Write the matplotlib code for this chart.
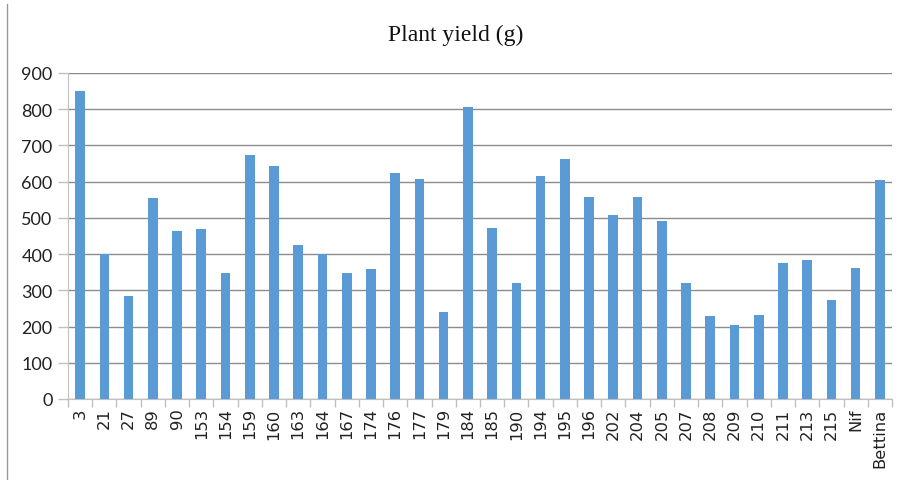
"""Plant yield bar chart."""

import matplotlib

matplotlib.use("Agg")
import matplotlib.pyplot as plt
import numpy as np

categories = [
    "3", "21", "27", "89", "90", "153", "154", "159", "160", "163", "164",
    "167", "174", "176", "177", "179", "184", "185", "190", "194", "195",
    "196", "202", "204", "205", "207", "208", "209", "210", "211", "213",
    "215", "Nif", "Bettina",
]
yield_g = [
    850, 400, 284, 556, 465, 468, 348, 673, 643, 425, 400,
    348, 359, 625, 606, 241, 805, 473, 321, 615, 663,
    559, 508, 559, 491, 321, 228, 204, 231, 375, 383,
    273, 362, 604,
]
y_ticks = list(range(0, 1000, 100))

BAR = "#5b9bd5"
GRID = "#8c8c8c"
AXIS = "#c0c0c0"

fig = plt.figure(figsize=(9.02, 4.81), dpi=100)
ax = fig.add_axes([68 / 902, 1 - 400 / 481, (892 - 68) / 902, (400 - 74) / 481])

x = np.arange(len(categories))
ax.bar(x, yield_g, width=0.4, color=BAR, zorder=3)

ax.set_xlim(-0.5, len(categories) - 0.5)
ax.set_ylim(0, 900)
ax.set_yticks(y_ticks)
ax.set_yticklabels([str(v) for v in y_ticks], fontsize=13, family="Lato", color="#222222")
ax.yaxis.grid(True, color=GRID, linewidth=1.0, zorder=0)
ax.tick_params(axis="y", length=7, color=AXIS, width=1, pad=4)

ax.set_xticks(x)
ax.set_xticklabels(categories, rotation=90, fontsize=11.8, family="DejaVu Sans", color="#222222")
ax.set_xticks(np.arange(len(categories) + 1) - 0.5, minor=True)
ax.tick_params(axis="x", which="major", length=0, pad=6)
ax.tick_params(axis="x", which="minor", length=6, color=AXIS, width=1)

for side in ("top", "right"):
    ax.spines[side].set_visible(False)
ax.spines["left"].set_color(AXIS)
ax.spines["bottom"].set_color(AXIS)

fig.text(0.505, 1 - 35 / 481, "Plant yield (g)", ha="center", va="center",
         fontsize=17, family="Liberation Serif", color="#111111")

# partial chart frame on the left edge
fig.add_artist(plt.Line2D([6.5 / 902, 6.5 / 902], [0, 1 - 5 / 481],
                          transform=fig.transFigure, color="#9a9a9a", linewidth=1))

fig.savefig("out.png", dpi=100)
